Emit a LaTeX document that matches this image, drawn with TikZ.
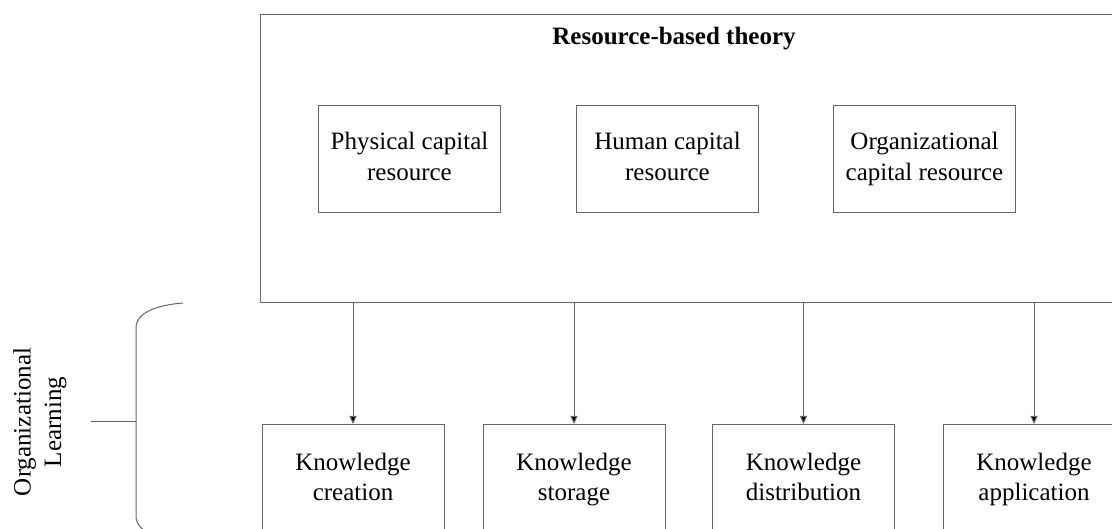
\documentclass[tikz,border=0pt]{standalone}
\usepackage{fontspec}
\setmainfont{Liberation Serif}
\usetikzlibrary{arrows.meta}
\begin{document}
\begin{tikzpicture}[x=1pt,y=-1pt,
  every node/.style={font=\fontsize{25}{30.5}\selectfont, align=center},
  boxx/.style={draw=black!60, line width=1pt, rectangle, inner sep=0pt,
    minimum width=182pt, minimum height=107pt},
  kbox/.style={boxx, minimum height=110pt, anchor=north},
  conn/.style={draw=black!60, line width=1pt, -{Triangle[length=8pt,width=7pt,fill=black]}},
  brace/.style={draw=black!60, line width=1pt}]
\useasboundingbox (0,0) rectangle (1112,529);
\clip (0,0) rectangle (1112,529);
% top box
\node[boxx, minimum width=866pt, minimum height=288pt, anchor=north west] (rbt) at (260,14) {};
\node[anchor=base, font=\fontsize{25}{30.5}\selectfont\bfseries] (title) at (674,45) {Resource-based theory};
% inner resources
\node[boxx, anchor=north west] (phys) at (318,105) {\strut Physical capital\\resource\strut};
\node[boxx, anchor=north west] (hum) at (576,105) {\strut Human capital\\resource\strut};
\node[boxx, anchor=north west] (org) at (833,105) {\strut Organizational\\capital resource\strut};
% knowledge boxes
\node[kbox] (kc) at (353,424) {\strut Knowledge\\creation\strut};
\node[kbox] (ks) at (574,424) {\strut Knowledge\\storage\strut};
\node[kbox] (kd) at (803.5,424) {\strut Knowledge\\distribution\strut};
\node[kbox] (ka) at (1034,424) {\strut Knowledge\\application\strut};
% arrows
\foreach \k in {kc,ks,kd,ka}
  \draw[conn] (rbt.south -| \k.north) -- (\k.north);
% brace
\coordinate (bt) at (183,303);
\coordinate (bb) at (183,541);
\coordinate (bm) at (136,422);
\coordinate (tk) at (91,422);
\draw[brace] (bt) .. controls (158,305) and (136,312) .. (136,328) -- (136,516) .. controls (136,532) and (158,539) .. (bb);
\draw[brace] (tk) -- (bm);
\node[rotate=90] (ol) at (40,422) {Organizational\\Learning};
\end{tikzpicture}
\end{document}
